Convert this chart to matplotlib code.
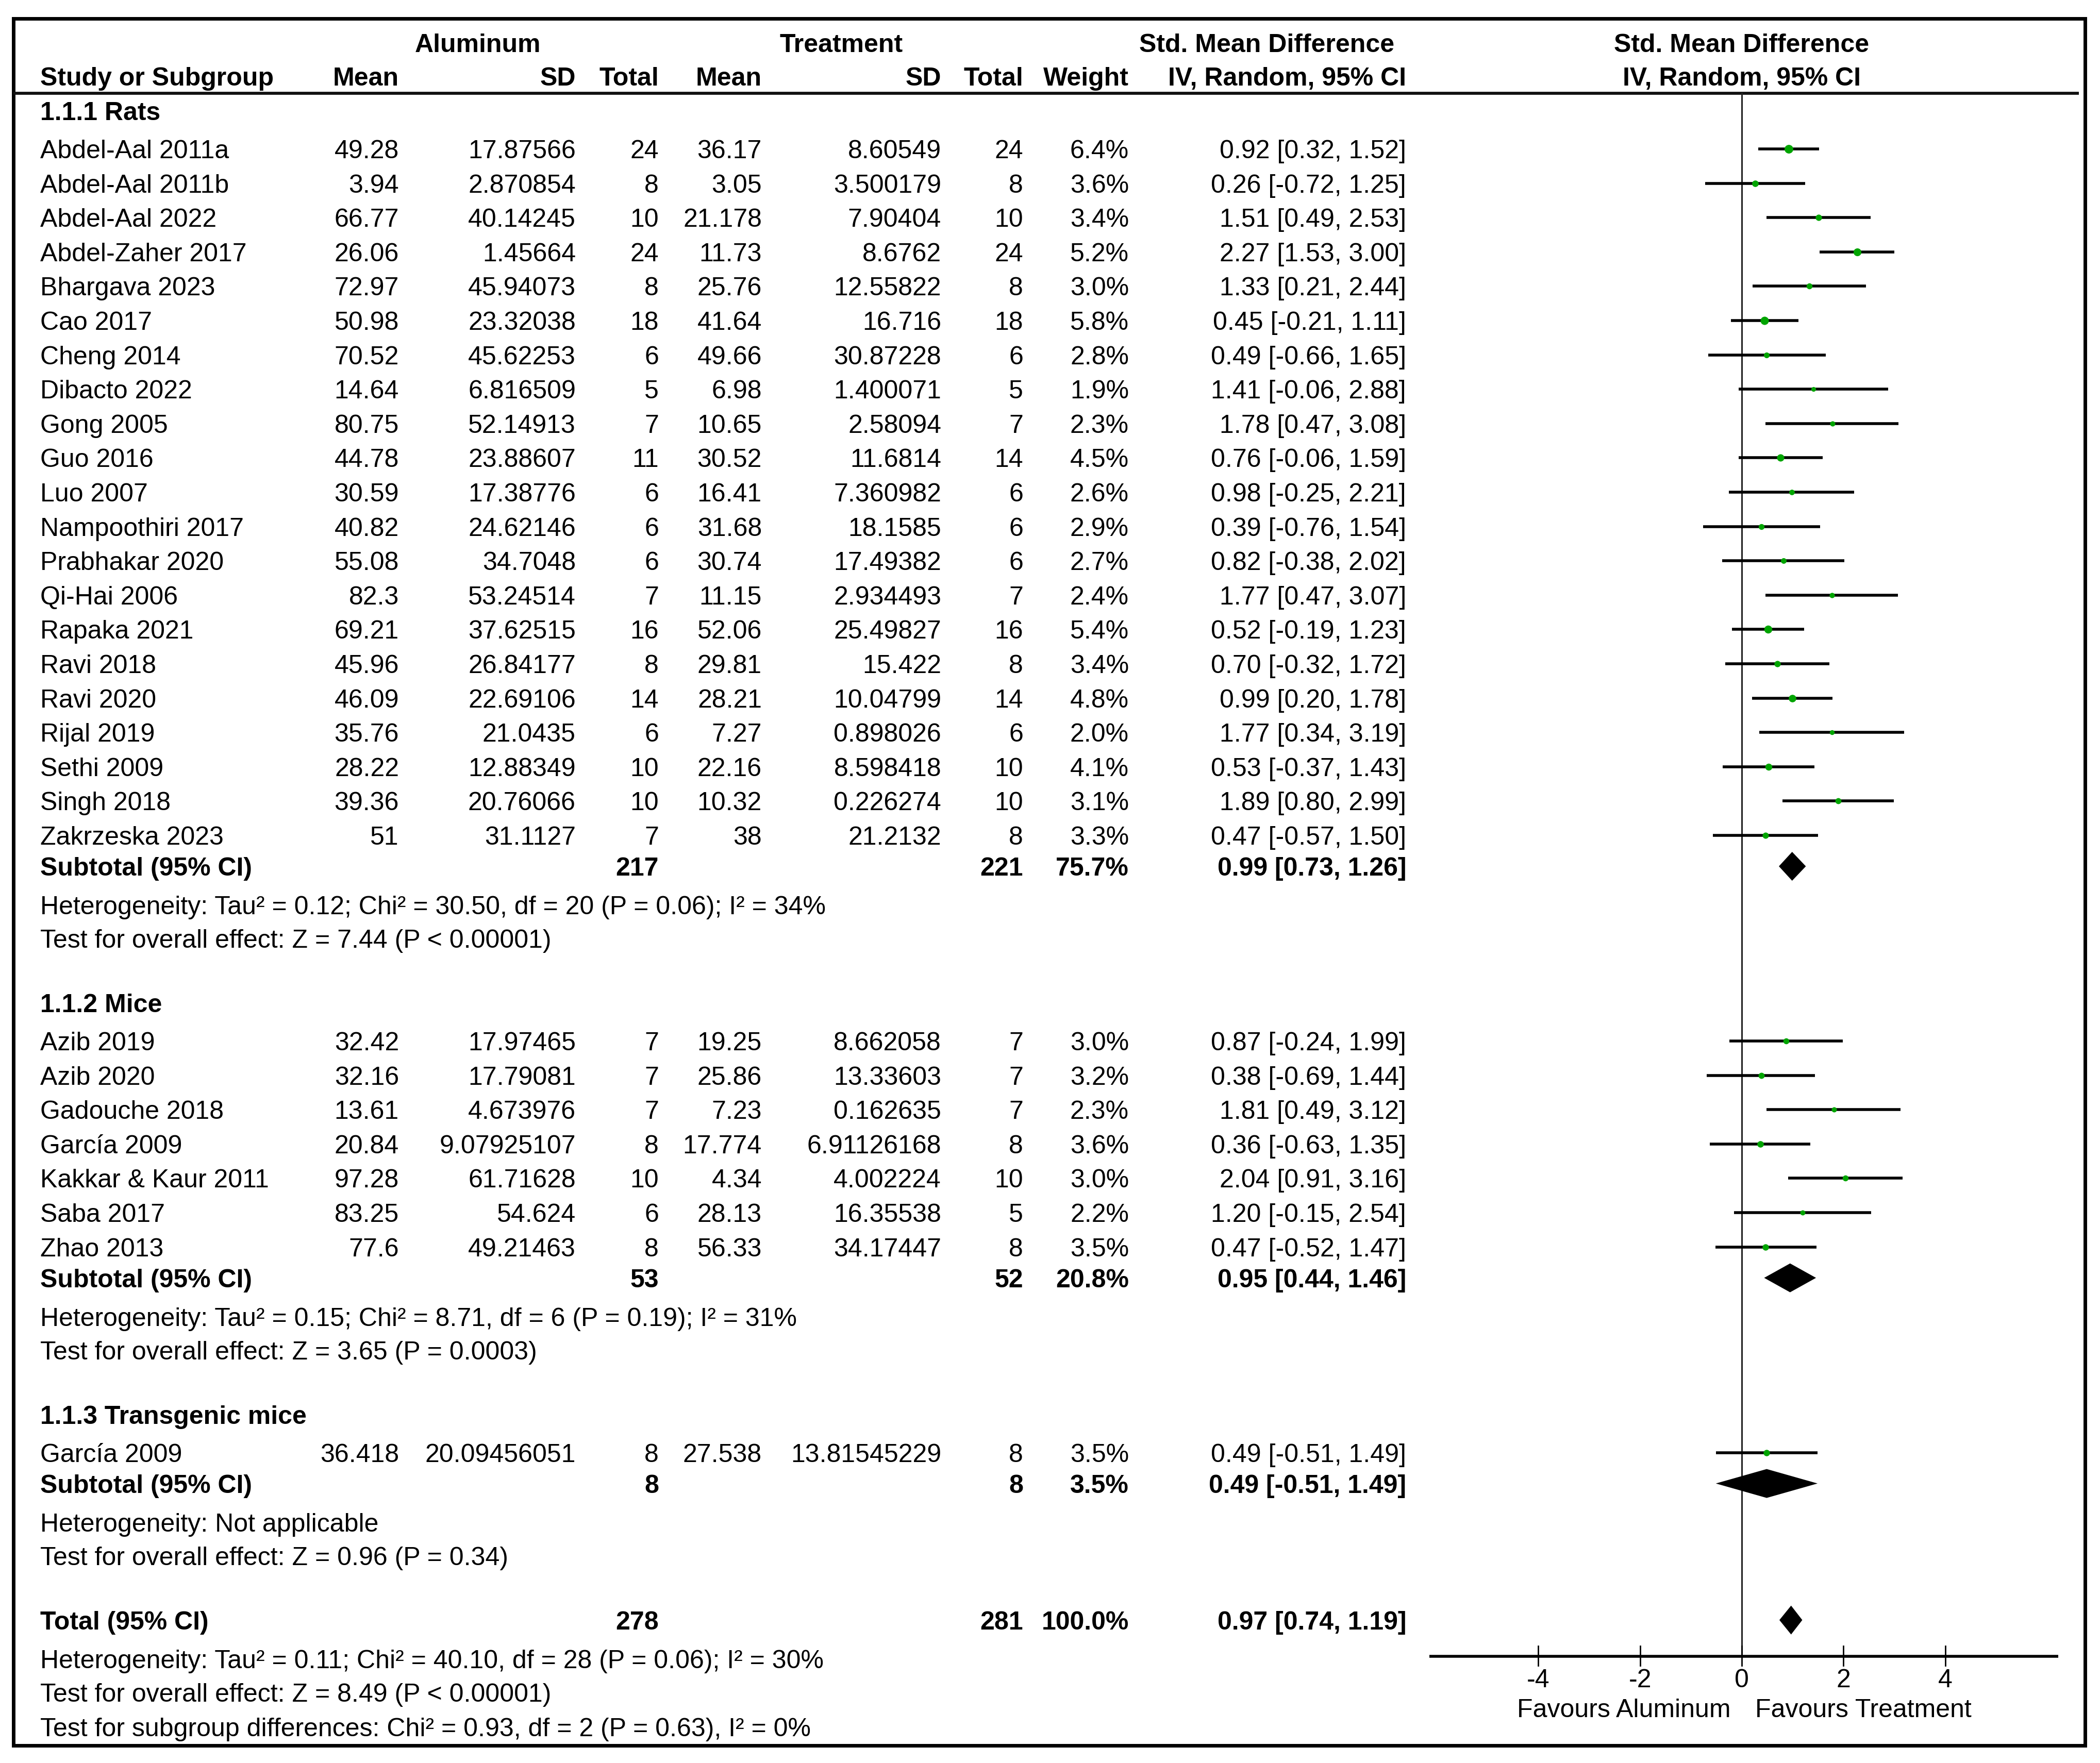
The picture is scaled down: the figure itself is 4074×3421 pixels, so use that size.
import matplotlib
matplotlib.use("Agg")
import matplotlib.pyplot as plt
import numpy as np
from matplotlib.patches import Rectangle

plt.rcParams["font.family"] = ["Liberation Sans", "DejaVu Sans"]

# ---- data -----------------------------------------------------------------
group_titles = ["1.1.1 Rats", "1.1.2 Mice", "1.1.3 Transgenic mice"]

study_names = [
    "Abdel-Aal 2011a", "Abdel-Aal 2011b", "Abdel-Aal 2022", "Abdel-Zaher 2017",
    "Bhargava 2023", "Cao 2017", "Cheng 2014", "Dibacto 2022", "Gong 2005",
    "Guo 2016", "Luo 2007", "Nampoothiri 2017", "Prabhakar 2020", "Qi-Hai 2006",
    "Rapaka 2021", "Ravi 2018", "Ravi 2020", "Rijal 2019", "Sethi 2009",
    "Singh 2018", "Zakrzeska 2023",
    "Azib 2019", "Azib 2020", "Gadouche 2018", "García 2009",
    "Kakkar & Kaur 2011", "Saba 2017", "Zhao 2013",
    "García 2009",
]
study_group = [0] * 21 + [1] * 7 + [2]

al_mean = ["49.28", "3.94", "66.77", "26.06", "72.97", "50.98", "70.52", "14.64",
           "80.75", "44.78", "30.59", "40.82", "55.08", "82.3", "69.21", "45.96",
           "46.09", "35.76", "28.22", "39.36", "51",
           "32.42", "32.16", "13.61", "20.84", "97.28", "83.25", "77.6",
           "36.418"]
al_sd = ["17.87566", "2.870854", "40.14245", "1.45664", "45.94073", "23.32038",
         "45.62253", "6.816509", "52.14913", "23.88607", "17.38776", "24.62146",
         "34.7048", "53.24514", "37.62515", "26.84177", "22.69106", "21.0435",
         "12.88349", "20.76066", "31.1127",
         "17.97465", "17.79081", "4.673976", "9.07925107", "61.71628", "54.624",
         "49.21463",
         "20.09456051"]
al_n = [24, 8, 10, 24, 8, 18, 6, 5, 7, 11, 6, 6, 6, 7, 16, 8, 14, 6, 10, 10, 7,
        7, 7, 7, 8, 10, 6, 8,
        8]
tr_mean = ["36.17", "3.05", "21.178", "11.73", "25.76", "41.64", "49.66", "6.98",
           "10.65", "30.52", "16.41", "31.68", "30.74", "11.15", "52.06", "29.81",
           "28.21", "7.27", "22.16", "10.32", "38",
           "19.25", "25.86", "7.23", "17.774", "4.34", "28.13", "56.33",
           "27.538"]
tr_sd = ["8.60549", "3.500179", "7.90404", "8.6762", "12.55822", "16.716",
         "30.87228", "1.400071", "2.58094", "11.6814", "7.360982", "18.1585",
         "17.49382", "2.934493", "25.49827", "15.422", "10.04799", "0.898026",
         "8.598418", "0.226274", "21.2132",
         "8.662058", "13.33603", "0.162635", "6.91126168", "4.002224", "16.35538",
         "34.17447",
         "13.81545229"]
tr_n = [24, 8, 10, 24, 8, 18, 6, 5, 7, 14, 6, 6, 6, 7, 16, 8, 14, 6, 10, 10, 8,
        7, 7, 7, 8, 10, 5, 8,
        8]
weight = [6.4, 3.6, 3.4, 5.2, 3.0, 5.8, 2.8, 1.9, 2.3, 4.5, 2.6, 2.9, 2.7, 2.4,
          5.4, 3.4, 4.8, 2.0, 4.1, 3.1, 3.3,
          3.0, 3.2, 2.3, 3.6, 3.0, 2.2, 3.5,
          3.5]
smd = [0.92, 0.26, 1.51, 2.27, 1.33, 0.45, 0.49, 1.41, 1.78, 0.76, 0.98, 0.39,
       0.82, 1.77, 0.52, 0.70, 0.99, 1.77, 0.53, 1.89, 0.47,
       0.87, 0.38, 1.81, 0.36, 2.04, 1.20, 0.47,
       0.49]
ci_lo = [0.32, -0.72, 0.49, 1.53, 0.21, -0.21, -0.66, -0.06, 0.47, -0.06, -0.25,
         -0.76, -0.38, 0.47, -0.19, -0.32, 0.20, 0.34, -0.37, 0.80, -0.57,
         -0.24, -0.69, 0.49, -0.63, 0.91, -0.15, -0.52,
         -0.51]
ci_hi = [1.52, 1.25, 2.53, 3.00, 2.44, 1.11, 1.65, 2.88, 3.08, 1.59, 2.21, 1.54,
         2.02, 3.07, 1.23, 1.72, 1.78, 3.19, 1.43, 2.99, 1.50,
         1.99, 1.44, 3.12, 1.35, 3.16, 2.54, 1.47,
         1.49]

sub_al_n = [217, 53, 8]
sub_tr_n = [221, 52, 8]
sub_weight = [75.7, 20.8, 3.5]
sub_smd = [0.99, 0.95, 0.49]
sub_lo = [0.73, 0.44, -0.51]
sub_hi = [1.26, 1.46, 1.49]
sub_het = [
    "Heterogeneity: Tau² = 0.12; Chi² = 30.50, df = 20 (P = 0.06); I² = 34%",
    "Heterogeneity: Tau² = 0.15; Chi² = 8.71, df = 6 (P = 0.19); I² = 31%",
    "Heterogeneity: Not applicable",
]
sub_test = [
    "Test for overall effect: Z = 7.44 (P < 0.00001)",
    "Test for overall effect: Z = 3.65 (P = 0.0003)",
    "Test for overall effect: Z = 0.96 (P = 0.34)",
]

total_al_n = 278
total_tr_n = 281
total_weight = 100.0
total_smd = 0.97
total_lo = 0.74
total_hi = 1.19
total_notes = [
    "Heterogeneity: Tau² = 0.11; Chi² = 40.10, df = 28 (P = 0.06); I² = 30%",
    "Test for overall effect: Z = 8.49 (P < 0.00001)",
    "Test for subgroup differences: Chi² = 0.93, df = 2 (P = 0.63), I² = 0%",
]

axis_ticks = [-4, -2, 0, 2, 4]
favours_left = "Favours Aluminum"
favours_right = "Favours Treatment"

# ---- layout (pixels of the 4074 x 3421 canvas) ----------------------------
W, H = 4074, 3421
FS = 36
DY = 5                  # small downward nudge so text centres match the rows
GREEN = "#00a400"

x_name = 78
x_al_mean, x_al_sd, x_al_n = 774, 1117, 1278
x_tr_mean, x_tr_sd, x_tr_n = 1478, 1826, 1985
x_weight, x_ci = 2190, 2728

zero_px = 3379          # where SMD = 0 sits
unit_px = 98.7          # pixels per SMD unit

step_study = 66.6
y_header1, y_header2, y_header_line = 83, 148, 181
y_axis = 3214
diamond_h = 56


def ci_text(est, lo, hi):
    return f"{est:.2f} [{lo:.2f}, {hi:.2f}]"


fig = plt.figure(figsize=(W / 100, H / 100), dpi=100)
ax = fig.add_axes([0, 0, 1, 1])
ax.set_xlim(0, W)
ax.set_ylim(H, 0)
ax.axis("off")

# forest axes: same vertical scale, x in SMD units
fx = fig.add_axes([0, 0, 1, 1])
fx.set_xlim(-zero_px / unit_px, (W - zero_px) / unit_px)
fx.set_ylim(H, 0)
fx.axis("off")
fx.patch.set_alpha(0)


def txt(x, y, s, ha="left", bold=False, axis=None):
    (axis or ax).text(x, y + DY, s, ha=ha, va="center", fontsize=FS,
                      fontweight="bold" if bold else "normal", color="black")


# header
txt(927, y_header1, "Aluminum", ha="center", bold=True)
txt(1632, y_header1, "Treatment", ha="center", bold=True)
txt(2458, y_header1, "Std. Mean Difference", ha="center", bold=True)
txt(0, y_header1, "Std. Mean Difference", ha="center", bold=True, axis=fx)
txt(x_name, y_header2, "Study or Subgroup", bold=True)
for xx, lab in [(x_al_mean, "Mean"), (x_al_sd, "SD"), (x_al_n, "Total"),
                (x_tr_mean, "Mean"), (x_tr_sd, "SD"), (x_tr_n, "Total"),
                (x_weight, "Weight"), (x_ci, "IV, Random, 95% CI")]:
    txt(xx, y_header2, lab, ha="right", bold=True)
txt(0, y_header2, "IV, Random, 95% CI", ha="center", bold=True, axis=fx)

ax.plot([26, 4033], [y_header_line, y_header_line], color="#111111", lw=4.2,
        solid_capstyle="butt")
ax.add_patch(Rectangle((26, 36), 4045 - 26, 3387 - 36, fill=False,
                       edgecolor="black", lw=5))

# body
y = 215
for g, title in enumerate(group_titles):
    txt(x_name, y, title, bold=True)
    y += 74
    idx = [i for i, gg in enumerate(study_group) if gg == g]
    for k, i in enumerate(idx):
        if k > 0:
            y += step_study
        txt(x_name, y, study_names[i])
        txt(x_al_mean, y, al_mean[i], ha="right")
        txt(x_al_sd, y, al_sd[i], ha="right")
        txt(x_al_n, y, str(al_n[i]), ha="right")
        txt(x_tr_mean, y, tr_mean[i], ha="right")
        txt(x_tr_sd, y, tr_sd[i], ha="right")
        txt(x_tr_n, y, str(tr_n[i]), ha="right")
        txt(x_weight, y, f"{weight[i]:.1f}%", ha="right")
        txt(x_ci, y, ci_text(smd[i], ci_lo[i], ci_hi[i]), ha="right")
        fx.plot([ci_lo[i], ci_hi[i]], [y, y], color="black", lw=4,
                solid_capstyle="butt", zorder=3)
        fx.plot(smd[i], y, marker="o", color=GREEN,
                markersize=4.8 * np.sqrt(weight[i]), markeredgewidth=0, zorder=4)
    y += 60
    txt(x_name, y, "Subtotal (95% CI)", bold=True)
    txt(x_al_n, y, str(sub_al_n[g]), ha="right", bold=True)
    txt(x_tr_n, y, str(sub_tr_n[g]), ha="right", bold=True)
    txt(x_weight, y, f"{sub_weight[g]:.1f}%", ha="right", bold=True)
    txt(x_ci, y, ci_text(sub_smd[g], sub_lo[g], sub_hi[g]), ha="right", bold=True)
    fx.fill([sub_lo[g], sub_smd[g], sub_hi[g], sub_smd[g]],
            [y, y - diamond_h / 2, y, y + diamond_h / 2],
            color="black", lw=0, zorder=4)
    y += 75
    txt(x_name, y, sub_het[g])
    y += 65
    txt(x_name, y, sub_test[g])
    y += 125

txt(x_name, y, "Total (95% CI)", bold=True)
txt(x_al_n, y, str(total_al_n), ha="right", bold=True)
txt(x_tr_n, y, str(total_tr_n), ha="right", bold=True)
txt(x_weight, y, f"{total_weight:.1f}%", ha="right", bold=True)
txt(x_ci, y, ci_text(total_smd, total_lo, total_hi), ha="right", bold=True)
fx.fill([total_lo, total_smd, total_hi, total_smd],
        [y, y - diamond_h / 2, y, y + diamond_h / 2],
        color="black", lw=0, zorder=4)
y += 75
for k, note in enumerate(total_notes):
    txt(x_name, y, note)
    y += 65 if k == 0 else 67

# zero line and axis
fx.plot([0, 0], [y_header_line, y_axis], color="#222222", lw=2.2, zorder=2)
fx.plot([(2773 - zero_px) / unit_px, (3993 - zero_px) / unit_px],
        [y_axis, y_axis], color="black", lw=4, solid_capstyle="butt")
for t in axis_ticks:
    fx.plot([t, t], [y_axis - 20, y_axis + 18], color="black", lw=2)
    txt(t, y_axis + 42, f"{t:d}", ha="center", axis=fx)
txt(-0.22, y_axis + 100, favours_left, ha="right", axis=fx)
txt(0.26, y_axis + 100, favours_right, axis=fx)

fig.savefig("out.png", dpi=100, facecolor="white")
